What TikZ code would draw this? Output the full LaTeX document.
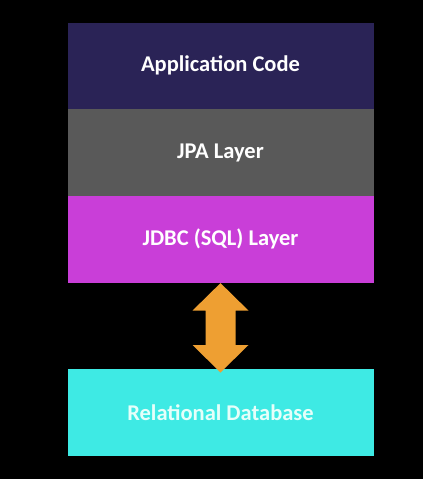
\documentclass[tikz,border=0pt]{standalone}
\usepackage{fontspec}
\setmainfont{Carlito}
\usetikzlibrary{calc}
\definecolor{appc}{HTML}{2A2356}
\definecolor{jpac}{HTML}{595959}
\definecolor{jdbcc}{HTML}{C93ED8}
\definecolor{dbc}{HTML}{3EEAE4}
\definecolor{arrc}{HTML}{EE9F32}
\definecolor{dbtext}{HTML}{E6FFFA}
\begin{document}
\begin{tikzpicture}[x=1pt,y=-1pt,
  layer/.style={minimum width=306pt,minimum height=86.7pt,inner sep=0pt,outer sep=0pt,
    font=\fontsize{22.5}{25}\selectfont\bfseries,text=white}]
\fill[black] (0,0) rectangle (423,479);
\useasboundingbox (0,0) rectangle (423,479);
\node[layer,fill=appc,anchor=north west] (app) at (67.5,22.5) {Application Code};
\node[layer,fill=jpac,anchor=north] (jpa) at (app.south) {JPA Layer};
\node[layer,fill=jdbcc,anchor=north] (jdbc) at (jpa.south) {JDBC (SQL) Layer};
\node[layer,fill=dbc,anchor=north west,text=dbtext] (db) at (67.5,369) {Relational Database};
\coordinate (t) at ($(jdbc.south)+(0,0.5)$);
\coordinate (b) at ($(db.north)+(0,3.5)$);
\fill[arrc] (t) -- ($(t)+(28,27.5)$) -- ($(t)+(15,27.5)$) -- ($(b)+(15,-27.5)$) -- ($(b)+(28,-27.5)$)
  -- (b) -- ($(b)+(-28,-27.5)$) -- ($(b)+(-15,-27.5)$) -- ($(t)+(-15,27.5)$) -- ($(t)+(-28,27.5)$) -- cycle;
\end{tikzpicture}
\end{document}
